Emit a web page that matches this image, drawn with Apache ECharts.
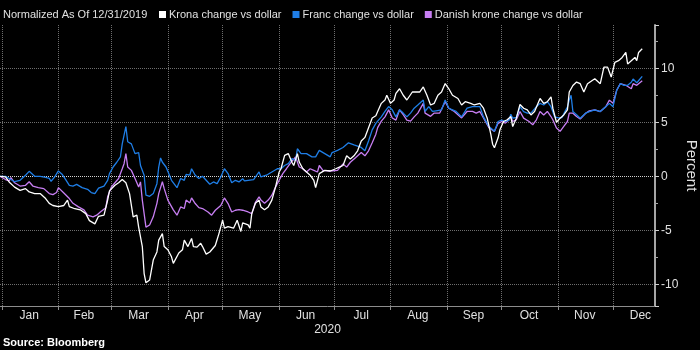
<!DOCTYPE html>
<html><head><meta charset="utf-8">
<script src="https://cdn.jsdelivr.net/npm/echarts@6/dist/echarts.min.js"></script>
<style>html,body{margin:0;padding:0;background:#000}#c{width:700px;height:350px}</style>
</head><body><div id="c"></div>
<script>
// x = day index, 0 = 2019-12-31
const seriesNames = ['Krona change vs dollar', 'Franc change vs dollar', 'Danish krone change vs dollar'];
const monthNames = ['Jan','Feb','Mar','Apr','May','Jun','Jul','Aug','Sep','Oct','Nov','Dec'];
const monthStarts = [1,32,61,92,122,153,183,214,245,275,306,336];
const monthMids = [16,46,76,106.5,137,167.5,198,229,259.5,290,320.5,351];
const yearLabel = '2020';

const krona = [[0,0],[3,-0.06],[5,-0.52],[6,-0.68],[8,-1.0],[11,-1.3],[14,-1.14],[16,-1.45],[19,-1.6],[22,-1.6],[25,-2.06],[27,-2.5],[29,-2.7],[32,-2.8],[35,-2.7],[37,-2.2],[38,-2.8],[41,-3.0],[44,-3.1],[47,-3.45],[49,-4.1],[52,-4.4],[54,-3.7],[57,-3.6],[59,-2.2],[60,-1.35],[63,-0.83],[65,-0.6],[67,-0.3],[68,-0.2],[69,-0.6],[71,-1.6],[73,-3.75],[75,-3.6],[76,-4.7],[78,-6.5],[79,-9.0],[80,-9.85],[82,-9.6],[84,-7.75],[86,-7.0],[87,-5.9],[89,-5.3],[90,-6.5],[92,-6.8],[94,-7.45],[95,-8.06],[98,-7.1],[100,-6.8],[101,-5.9],[103,-6.5],[105,-5.75],[106,-6.5],[108,-6.55],[110,-6.2],[111,-6.5],[113,-7.2],[115,-7.0],[118,-6.4],[120,-5.3],[122,-4.06],[123,-4.8],[125,-4.65],[128,-4.8],[130,-4.06],[132,-5.1],[133,-4.3],[136,-4.5],[137,-4.8],[138,-3.45],[140,-2.5],[142,-2.2],[143,-2.83],[145,-3.1],[147,-2.83],[149,-2.2],[151,-1.0],[153,0.4],[154,0.7],[156,1.94],[158,2.1],[160,1.3],[161,1.0],[163,2.1],[164,1.32],[166,0.7],[168,0.4],[170,0.1],[172,-0.37],[173,-1.05],[175,0.25],[176,0.4],[178,0.55],[181,0.49],[184,0.7],[186,0.85],[188,1.0],[190,1.9],[192,1.6],[194,1.9],[196,2.36],[198,3.27],[200,3.6],[202,4.5],[204,5.4],[206,5.6],[207,6.0],[209,6.75],[211,7.06],[212,7.5],[214,6.75],[216,7.06],[217,7.67],[219,8.1],[221,7.5],[223,7.06],[226,7.8],[228,7.8],[230,7.8],[232,8.27],[234,7.5],[236,6.6],[238,6.75],[240,7.5],[242,7.8],[244,8.58],[246,8.1],[248,7.5],[249,7.4],[251,7.2],[253,6.6],[255,6.9],[258,6.75],[260,6.6],[263,6.75],[265,6.3],[267,5.4],[269,3.9],[270,2.97],[271,2.64],[273,3.56],[274,4.3],[276,5.07],[278,5.23],[280,5.53],[281,4.6],[283,5.38],[285,6.65],[287,6.3],[289,6.14],[291,5.68],[293,5.99],[296,7.2],[298,6.75],[300,6.9],[302,7.36],[303,6.3],[305,5.0],[307,5.38],[309,5.68],[311,6.14],[312,7.8],[314,8.4],[316,8.72],[318,8.57],[320,7.8],[322,8.57],[323,8.72],[326,9.03],[329,8.57],[331,10.1],[333,10.1],[335,9.18],[337,10.55],[339,10.7],[341,11.0],[343,11.46],[344,10.4],[346,10.7],[348,11.0],[349,10.7],[350,11.46],[352,11.8]];

const franc = [[0,0],[3,0],[5,-0.2],[8,-0.5],[11,-0.37],[14,0.1],[16,0.46],[17,0.3],[19,0],[22,0],[25,-0.1],[27,-0.2],[28,-0.46],[30,-0.05],[32,0.5],[34,0.2],[36,-0.3],[38,-0.83],[40,-0.9],[42,-0.75],[45,-1.05],[48,-1.2],[50,-1.5],[52,-1.6],[54,-1.1],[57,-0.9],[59,-0.37],[60,0.25],[62,0.86],[64,1.3],[66,1.8],[67,3.0],[68,3.8],[69,4.6],[70,3.2],[72,3.0],[74,2.1],[76,2.2],[77,1.0],[79,0.1],[80,-1.75],[82,-1.85],[84,-1.6],[86,-0.68],[87,0.86],[88,1.7],[89,1.3],[91,0.86],[94,-0.37],[97,-1.05],[99,-0.2],[101,-0.37],[102,0.18],[104,0.1],[105,0.7],[107,0.1],[109,-0.2],[111,0],[113,-0.37],[115,-0.74],[117,-0.52],[119,-0.68],[121,-0.06],[123,0.7],[125,0.25],[127,-0.6],[129,-0.37],[131,-0.52],[133,-0.22],[134,-0.43],[136,-0.37],[139,-0.3],[142,0.4],[143,-0.06],[146,0.1],[149,0.4],[152,0.7],[154,0.7],[156,1.0],[158,1.17],[160,1.63],[162,1.48],[163,2.55],[165,2.1],[168,2.1],[171,1.8],[173,1.8],[175,2.4],[178,2.1],[181,1.8],[182,2.2],[185,2.4],[188,2.67],[191,3.1],[194,2.9],[196,2.8],[198,2.67],[200,2.36],[202,3.27],[204,4.3],[206,4.9],[207,5.1],[209,5.5],[211,6.0],[213,6.45],[215,6.15],[217,5.5],[219,6.15],[221,5.85],[223,5.5],[225,5.85],[227,6.3],[229,6.6],[232,7.06],[233,6.0],[235,6.45],[237,6.0],[239,6.06],[242,6.15],[244,7.06],[246,6.3],[248,6.15],[250,6.0],[253,5.5],[256,6.3],[259,6.45],[261,6.45],[263,6.45],[265,5.5],[268,4.6],[271,4.16],[273,5.07],[275,5.2],[277,5.07],[279,5.2],[280,5.75],[281,5.38],[283,5.44],[285,6.44],[287,5.99],[289,5.84],[291,5.84],[294,6.44],[296,6.75],[298,6.6],[300,6.9],[302,6.44],[304,5.5],[306,5.4],[308,5.44],[310,6.1],[311,6.4],[312,7.05],[313,7.5],[314,5.99],[316,5.7],[318,5.38],[321,5.84],[323,5.99],[326,6.14],[329,5.99],[332,6.44],[334,6.75],[336,6.44],[338,7.96],[340,8.57],[342,8.42],[344,8.42],[346,8.7],[347,9.0],[349,8.66],[350,8.78],[352,9.25]];

const danish = [[0,0],[3,-0.3],[5,-0.43],[6,-0.12],[8,-0.6],[11,-0.9],[14,-0.83],[16,-0.5],[18,-0.9],[21,-1.05],[24,-1.14],[27,-1.6],[29,-1.7],[31,-1.5],[32,-1.05],[35,-1.54],[38,-2.06],[40,-2.5],[43,-2.83],[46,-3.1],[48,-3.6],[51,-3.75],[53,-3.6],[55,-3.3],[58,-2.9],[59,-1.9],[61,-1.0],[63,-0.6],[65,-0.2],[67,0.7],[68,1.17],[69,2.1],[70,0.86],[72,0.55],[74,-0.2],[76,-1.0],[77,-0.52],[78,-2.2],[80,-4.7],[82,-4.5],[84,-3.75],[86,-2.5],[87,-1.6],[89,-0.5],[90,-1.14],[92,-2.2],[95,-3.1],[97,-3.6],[99,-2.83],[101,-2.98],[102,-2.2],[104,-2.46],[105,-2.0],[107,-2.52],[109,-2.9],[111,-2.98],[114,-3.3],[116,-3.6],[118,-3.14],[121,-2.7],[123,-2.0],[125,-2.52],[127,-3.3],[129,-3.14],[131,-3.08],[133,-3.14],[136,-3.3],[138,-3.45],[140,-2.4],[142,-1.9],[143,-2.2],[145,-2.5],[147,-2.2],[149,-1.75],[151,-1.0],[153,-0.37],[155,0.25],[157,0.7],[159,1.17],[160,1.32],[162,1.8],[164,0.86],[166,0.7],[168,0.4],[170,0.7],[172,0.55],[174,0.4],[175,1.0],[177,0.55],[181,0.49],[185,0.55],[188,1.15],[190,0.85],[192,1.3],[195,1.75],[196,1.9],[198,2.2],[200,1.9],[202,2.36],[204,3.1],[206,3.9],[207,4.5],[209,5.1],[211,5.5],[213,6.15],[215,5.4],[217,5.2],[219,6.15],[221,5.7],[223,5.2],[225,5.1],[227,5.5],[229,5.85],[232,6.75],[233,5.85],[236,5.55],[238,5.85],[241,5.85],[244,6.9],[246,6.3],[249,6.0],[250,5.85],[253,5.4],[256,6.0],[259,6.0],[261,5.85],[263,6.0],[265,5.4],[268,4.5],[271,4.16],[273,4.9],[275,5.07],[277,4.92],[279,5.23],[280,5.53],[281,5.07],[283,5.23],[285,6.0],[287,5.38],[290,5.07],[292,4.77],[294,5.23],[296,6.0],[298,5.68],[300,6.0],[302,5.53],[303,5.23],[305,4.47],[307,4.16],[309,4.62],[311,5.07],[312,5.84],[314,5.84],[316,5.53],[318,5.3],[321,5.84],[323,6.05],[326,6.14],[329,5.99],[332,6.44],[334,7.05],[336,6.75],[338,7.96],[340,8.57],[343,8.42],[344,8.27],[346,8.1],[347,8.57],[349,8.42],[350,8.57],[352,8.85]];

const chart = echarts.init(document.getElementById('c'), null, {renderer: 'canvas'});
const FONT = 'Liberation Sans';
const gridGray = '#6e6e6e';
chart.setOption({
  backgroundColor: '#000',
  animation: false,
  textStyle: {fontFamily: FONT},
  title: [
    {text: 'Normalized As Of 12/31/2019', left: 3, top: 9, padding: 0,
     textStyle: {color: '#e0e0e0', fontSize: 11, fontWeight: 'normal', fontFamily: FONT}},
    {text: 'Source: Bloomberg', left: 3, top: 337, padding: 0,
     textStyle: {color: '#ffffff', fontSize: 11, fontWeight: 'bold', fontFamily: FONT}}
  ],
  legend: {
    data: seriesNames, left: 159, top: 9, padding: 0, icon: 'rect',
    itemWidth: 7, itemHeight: 7, itemGap: 11,
    textStyle: {color: '#e0e0e0', fontSize: 11, fontFamily: FONT, padding: [0, 0, 0, -2]}
  },
  grid: {left: 0, right: 45, top: 25, bottom: 44, containLabel: false, outerBoundsMode: 'none'},
  xAxis: {
    type: 'value', min: 0, max: 359,
    name: yearLabel, nameLocation: 'middle', nameGap: 18, nameMoveOverlap: false,
    nameTextStyle: {color: '#e0e0e0', fontSize: 12, fontFamily: FONT},
    axisLine: {show: true, onZero: false, lineStyle: {color: '#8c8c8c', width: 1}},
    axisTick: {show: true, customValues: monthStarts, length: 4, lineStyle: {color: '#8c8c8c'}},
    axisLabel: {customValues: monthMids, margin: 4, color: '#e0e0e0', fontSize: 12, fontFamily: FONT,
      formatter: v => monthNames[monthMids.indexOf(v)] || ''},
    splitLine: {show: true, lineStyle: {color: gridGray, type: 'dotted', width: 1}}
  },
  yAxis: {
    type: 'value', position: 'right', min: -12, max: 14, splitNumber: 5,
    name: 'Percent', nameLocation: 'middle', nameGap: 29, nameRotate: -90, nameMoveOverlap: false,
    nameTextStyle: {color: '#e0e0e0', fontSize: 15, fontFamily: FONT},
    axisLine: {show: true, onZero: false, lineStyle: {color: '#a6a6a6', width: 2}},
    axisTick: {show: true, length: 4, inside: false, lineStyle: {color: '#d0d0d0'}},
    minorTick: {show: true, splitNumber: 2, length: 3, lineStyle: {color: '#a6a6a6'}},
    axisLabel: {showMinLabel: false, showMaxLabel: false, margin: 6, color: '#e0e0e0', fontSize: 12, fontFamily: FONT},
    splitLine: {show: true, showMinLine: false, showMaxLine: false,
      lineStyle: {color: [gridGray, gridGray, '#d0d0d0', gridGray, gridGray], type: 'dotted', width: 1}}
  },
  series: [
    {name: seriesNames[0], type: 'line', data: krona, showSymbol: false, z: 5,
     itemStyle: {color: '#ffffff'}, lineStyle: {color: '#ffffff', width: 1.3}},
    {name: seriesNames[1], type: 'line', data: franc, showSymbol: false, z: 4,
     itemStyle: {color: '#1f7ee6'}, lineStyle: {color: '#1f7ee6', width: 1.3}},
    {name: seriesNames[2], type: 'line', data: danish, showSymbol: false, z: 3,
     itemStyle: {color: '#c77ef2'}, lineStyle: {color: '#c77ef2', width: 1.3}}
  ]
});
</script></body></html>
